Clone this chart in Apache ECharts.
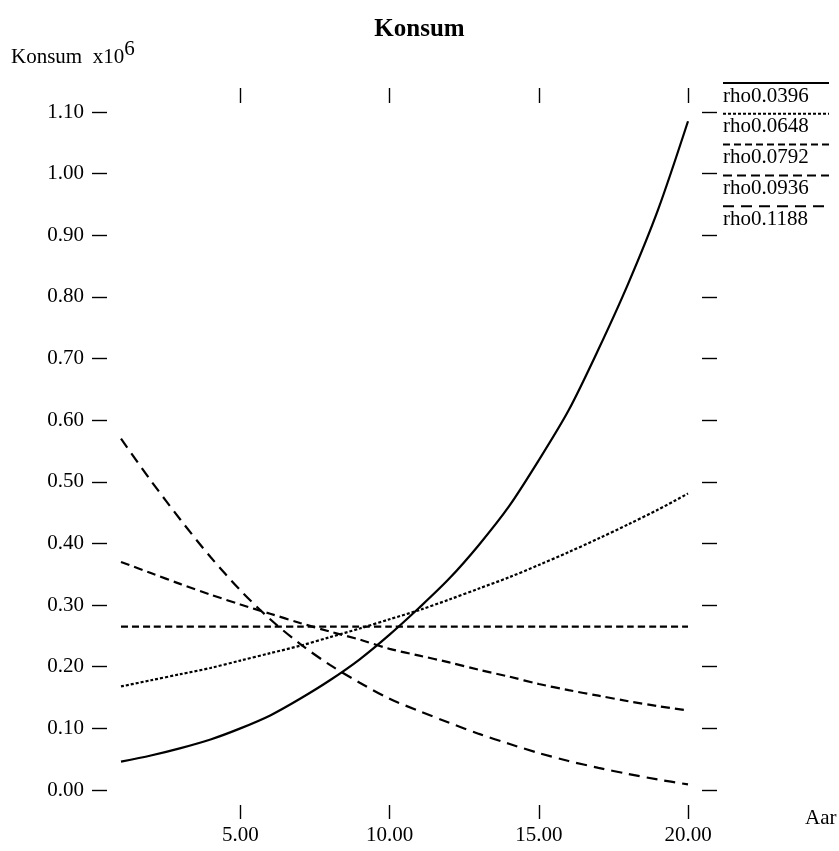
<!DOCTYPE html>
<html lang="no">
<head>
<meta charset="UTF-8" />
<title>Konsum</title>
<style>
  html, body { margin: 0; padding: 0; background: #fff; }
  #chart { width: 839px; height: 851px; }
</style>
</head>
<body>
<div id="chart"></div>
<script src="https://cdn.jsdelivr.net/npm/echarts@6/dist/echarts.min.js"></script>
<script>
  // år (x) og konsum i millioner (y), lest av figuren
  const years = [1, 2, 3, 4, 5, 6, 7, 8, 9, 10, 11, 12, 13, 14, 15, 16, 17, 18, 19, 20];
  const rho0396 = [0.046, 0.056, 0.068, 0.082, 0.100, 0.121, 0.148, 0.178, 0.212, 0.252,
                   0.296, 0.343, 0.398, 0.460, 0.535, 0.616, 0.715, 0.822, 0.942, 1.085];
  const rho0648 = [0.168, 0.178, 0.188, 0.198, 0.210, 0.222, 0.234, 0.248, 0.262, 0.277,
                   0.292, 0.309, 0.327, 0.345, 0.365, 0.386, 0.408, 0.431, 0.455, 0.481];
  const rho0792 = [0.265, 0.265, 0.265, 0.265, 0.265, 0.265, 0.265, 0.265, 0.265, 0.265,
                   0.265, 0.265, 0.265, 0.265, 0.265, 0.265, 0.265, 0.265, 0.265, 0.265];
  const rho0936 = [0.370, 0.352, 0.334, 0.317, 0.301, 0.286, 0.271, 0.257, 0.244, 0.229,
                   0.218, 0.207, 0.195, 0.184, 0.172, 0.162, 0.153, 0.144, 0.136, 0.129];
  const rho1188 = [0.570, 0.502, 0.438, 0.378, 0.324, 0.277, 0.237, 0.203, 0.174, 0.148,
                   0.128, 0.109, 0.091, 0.075, 0.060, 0.047, 0.036, 0.026, 0.017, 0.009];

  const seriesNames = ['rho0.0396', 'rho0.0648', 'rho0.0792', 'rho0.0936', 'rho0.1188'];
  const seriesValues = [rho0396, rho0648, rho0792, rho0936, rho1188];
  const xTicks = [5, 10, 15, 20];

  // strekmønster per kurve
  const dashes = ['solid', [3, 2], [7, 4], [9, 5], [11, 7]];

  const font = "'Liberation Serif', 'Times New Roman', serif";
  const chart = echarts.init(document.getElementById('chart'));

  const tickStyle = { color: '#000', width: 1.4 };

  // egen forklaring: linje over teksten, som i originalen
  const legendItems = [];
  seriesNames.forEach((name, i) => {
    const ly = 83 + i * 30.8;
    legendItems.push({
      type: 'line',
      shape: { x1: 723, y1: ly, x2: 829, y2: ly },
      style: {
        stroke: '#000',
        lineWidth: 2,
        lineDash: dashes[i] === 'solid' ? null : dashes[i]
      }
    });
    legendItems.push({
      type: 'text',
      x: 723,
      y: ly + 13,
      style: {
        text: name,
        font: '21px ' + font,
        fill: '#000',
        verticalAlign: 'middle'
      }
    });
  });

  const option = {
    animation: false,
    backgroundColor: '#fff',
    title: {
      text: 'Konsum',
      left: 'center',
      top: 12,
      textStyle: { fontFamily: font, fontWeight: 'bold', fontSize: 25, color: '#000' }
    },
    grid: { left: 121, right: 151, top: 112, bottom: 61, containLabel: false },
    xAxis: [
      {
        type: 'value',
        position: 'bottom',
        min: 1,
        max: 20,
        offset: 15,
        axisLine: { show: false, onZero: false },
        splitLine: { show: false },
        axisTick: { length: 14, lineStyle: tickStyle, customValues: xTicks },
        axisLabel: {
          customValues: xTicks,
          margin: 20,
          fontFamily: font,
          fontSize: 21,
          color: '#000',
          formatter: v => v.toFixed(2)
        }
      },
      {
        type: 'value',
        position: 'top',
        min: 1,
        max: 20,
        offset: 9,
        axisLine: { show: false, onZero: false },
        splitLine: { show: false },
        axisTick: { show: true, length: 15, lineStyle: tickStyle, customValues: xTicks },
        axisLabel: { show: false }
      }
    ],
    yAxis: [
      {
        type: 'value',
        position: 'left',
        min: 0,
        max: 1.1,
        interval: 0.1,
        offset: 14,
        axisLine: { show: false, onZero: false },
        splitLine: { show: false },
        axisTick: { length: 15, lineStyle: tickStyle },
        axisLabel: {
          margin: 23,
          fontFamily: font,
          fontSize: 21,
          color: '#000',
          formatter: v => v.toFixed(2)
        }
      },
      {
        type: 'value',
        position: 'right',
        min: 0,
        max: 1.1,
        interval: 0.1,
        offset: 14,
        axisLine: { show: false, onZero: false },
        splitLine: { show: false },
        axisTick: { length: 15, lineStyle: tickStyle },
        axisLabel: { show: false }
      }
    ],
    series: seriesNames.map((name, i) => ({
      name: name,
      type: 'line',
      xAxisIndex: 0,
      yAxisIndex: 0,
      data: years.map((t, k) => [t, seriesValues[i][k]]),
      showSymbol: false,
      smooth: 0.3,
      lineStyle: { color: '#000', width: 2.2, type: dashes[i] }
    })),
    graphic: [
      {
        type: 'text',
        x: 11,
        y: 57,
        style: {
          text: '{n|Konsum  x10}{s|6}',
          verticalAlign: 'middle',
          rich: {
            n: { fontFamily: font, fontSize: 21, color: '#000' },
            s: { fontFamily: font, fontSize: 21, color: '#000', padding: [0, 0, 16, 0] }
          }
        }
      },
      {
        type: 'text',
        x: 805,
        y: 818,
        style: {
          text: 'Aar',
          font: '21px ' + font,
          fill: '#000',
          verticalAlign: 'middle'
        }
      }
    ].concat(legendItems)
  };

  chart.setOption(option);
</script>
</body>
</html>
